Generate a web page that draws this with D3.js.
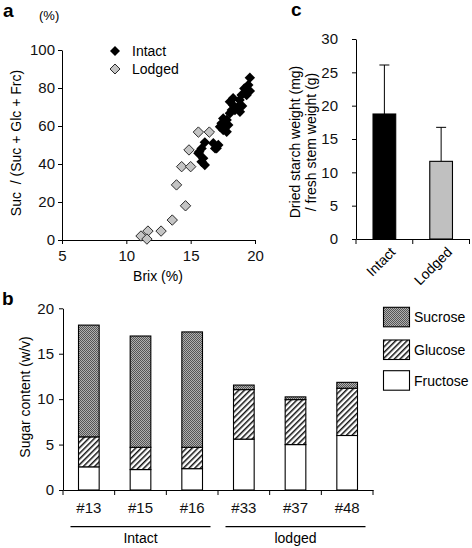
<!DOCTYPE html>
<html><head><meta charset="utf-8">
<script src="https://cdn.jsdelivr.net/npm/d3@7"></script>
<style>
body{margin:0;background:#fff;}
svg{font-family:"Liberation Sans",Arial,Helvetica,sans-serif;}
</style></head>
<body>
<svg id="chart" width="472" height="548"></svg>
<script>
// ---- Panel a data ----
const intactBrix  = [19.6,19.48,19.17,19.6,19.35,18.96,18.8,18.3,18.05,18.3,18.7,18.44,18.2,18.05,18.83,17.53,17.8,17.4,17.66,17.28,17.53,17.92,17.8,16.1,16.76,17.15,16.9,15.85,15.6,15.97,16.1,15.85,15.67,17.02,19.0];
const intactRatio = [85.4,81.6,79.8,78.4,76.3,76.3,73.7,74.6,72.8,71.0,70.2,68.4,68.4,66.7,67.5,64.0,63.2,61.4,60.5,59.6,57.9,60.5,57.0,51.4,50.9,50.0,48.2,48.2,45.6,43.0,39.5,41.2,46.5,48.3,70.5];
const lodgedBrix  = [11.14,11.68,11.6,12.7,13.57,14.6,13.9,14.3,15.0,14.87,15.6,16.45];
const lodgedRatio = [2.1,4.7,0.5,4.7,10.5,18.0,29.0,38.6,38.6,47.4,56.8,56.8];
const aXTicks = [5,10,15,20];
const aYTicks = [0,20,40,60,80,100];

// ---- Panel b data ----
const lines = ["#13","#15","#16","#33","#37","#48"];
const fructose = [2.55,2.25,2.35,5.6,5.0,6.0];
const glucose  = [3.3,2.45,2.35,5.45,4.95,5.2];
const sucrose  = [12.3,12.25,12.7,0.5,0.3,0.65];
const bYTicks = [0,5,10,15,20];
const groups = [{name:"Intact",from:"#13",to:"#16"},{name:"lodged",from:"#33",to:"#48"}];

// ---- Panel c data ----
const cCats = ["Intact","Lodged"];
const cMeans = [18.75,11.65];
const cSD = [7.35,5.1];
const cYTicks = [0,5,10,15,20,25,30];

const svg = d3.select("#chart");
const defs = svg.append("defs");
// sucrose pattern: fine dark pixel texture
const ps = defs.append("pattern").attr("id","pSuc").attr("patternUnits","userSpaceOnUse")
  .attr("width",2).attr("height",2);
ps.append("rect").attr("width",2).attr("height",2).attr("fill","#b0b0b0");
ps.append("rect").attr("x",0).attr("y",0).attr("width",1).attr("height",1).attr("fill","#555");
ps.append("rect").attr("x",1).attr("y",1).attr("width",1).attr("height",1).attr("fill","#555");
// glucose pattern: diagonal hatch
const pg = defs.append("pattern").attr("id","pGlc").attr("patternUnits","userSpaceOnUse")
  .attr("width",4).attr("height",4).attr("patternTransform","rotate(45)");
pg.append("rect").attr("width",4).attr("height",4).attr("fill","#fff");
pg.append("rect").attr("width",1.5).attr("height",4).attr("fill","#111");

function styleAxis(g, fs){
  g.selectAll("path,line").attr("stroke","#000").attr("stroke-width",1);
  g.selectAll("text").attr("font-size",fs).attr("fill","#111").attr("font-family",null);
}

// ================= Panel a =================
const ax = d3.scaleLinear().domain([5,20]).range([62,255]);
const ay = d3.scaleLinear().domain([0,100]).range([240,50]);
const gA = svg.append("g");
gA.append("g").attr("transform","translate(0,240)")
  .call(d3.axisBottom(ax).tickValues(aXTicks).tickSize(4).tickSizeOuter(0).tickPadding(6))
  .call(g=>styleAxis(g,15));
gA.append("g").attr("transform","translate(62,0)")
  .call(d3.axisLeft(ay).tickValues(aYTicks).tickSize(4).tickSizeOuter(0).tickPadding(3))
  .call(g=>styleAxis(g,15));
const diamondPath = (cx,cy,r)=>`M${cx},${cy-r}L${cx+r},${cy}L${cx},${cy+r}L${cx-r},${cy}Z`;
gA.selectAll(".lod").data(lodgedBrix).join("path")
  .attr("d",(d,i)=>diamondPath(ax(d),ay(lodgedRatio[i]),5.2))
  .attr("fill","#c4c4c4").attr("stroke","#2a2a2a").attr("stroke-width",1);
gA.selectAll(".int").data(intactBrix).join("path")
  .attr("d",(d,i)=>diamondPath(ax(d),ay(intactRatio[i]),5.2))
  .attr("fill","#000");
// legend a
gA.append("path").attr("d",diamondPath(115,51,5)).attr("fill","#000");
gA.append("path").attr("d",diamondPath(115,69,5)).attr("fill","#c4c4c4").attr("stroke","#2a2a2a");
gA.append("text").attr("x",132).attr("y",56).attr("font-size",14).text("Intact");
gA.append("text").attr("x",132).attr("y",74).attr("font-size",14).text("Lodged");
gA.append("text").attr("x",39).attr("y",20).attr("font-size",13).text("(%)");
gA.append("text").attr("transform","translate(21,143) rotate(-90)").attr("text-anchor","middle")
  .attr("font-size",14).attr("xml:space","preserve").text("Suc  / (Suc + Glc + Frc)");
gA.append("text").attr("x",158).attr("y",281).attr("text-anchor","middle").attr("font-size",14).text("Brix (%)");
svg.append("text").attr("x",3).attr("y",17).attr("font-size",19).attr("font-weight","bold").text("a");

// ================= Panel b =================
const bx = d3.scaleBand().domain(lines).range([63,373]).paddingInner(0.6).paddingOuter(0.3);
const by = d3.scaleLinear().domain([0,20]).range([490,308.3]);
const gB = svg.append("g");
const stackData = lines.map((l,i)=>({line:l,Fructose:fructose[i],Glucose:glucose[i],Sucrose:sucrose[i]}));
const stack = d3.stack().keys(["Fructose","Glucose","Sucrose"])(stackData);
const fills = {Fructose:"#fff",Glucose:"url(#pGlc)",Sucrose:"url(#pSuc)"};
stack.forEach(layer=>{
  gB.selectAll(null).data(layer).join("rect")
    .attr("x",d=>bx(d.data.line)).attr("width",bx.bandwidth())
    .attr("y",d=>by(d[1])).attr("height",d=>by(d[0])-by(d[1]))
    .attr("fill",fills[layer.key]).attr("stroke","#000").attr("stroke-width",1.1);
});
gB.append("g").attr("transform","translate(63,0)")
  .call(d3.axisLeft(by).tickValues(bYTicks).tickSize(4).tickSizeOuter(0).tickPadding(5))
  .call(g=>styleAxis(g,15));
gB.append("g").attr("transform","translate(0,490)")
  .call(d3.axisBottom(bx).tickSize(0).tickSizeOuter(0).tickPadding(12))
  .call(g=>styleAxis(g,15));
const half = bx.step()*bx.paddingInner()/2;
const bBounds = lines.map(l=>bx(l)-half).concat([bx(lines[lines.length-1])+bx.bandwidth()+half]);
gB.selectAll(".bt").data(bBounds).join("line")
  .attr("x1",d=>d).attr("x2",d=>d).attr("y1",490).attr("y2",495).attr("stroke","#000");
groups.forEach(g=>{
  const x1 = bx(g.from)-8, x2 = bx(g.to)+bx.bandwidth()+8;
  gB.append("line").attr("x1",x1).attr("x2",x2).attr("y1",526.7).attr("y2",526.7).attr("stroke","#000").attr("stroke-width",1.2);
  gB.append("text").attr("x",(x1+x2)/2).attr("y",543).attr("text-anchor","middle").attr("font-size",14).text(g.name);
});
gB.append("text").attr("transform","translate(30,397) rotate(-90)").attr("text-anchor","middle")
  .attr("font-size",14).text("Sugar content (w/v)");
// legend b
const legB = [{k:"Sucrose",y:307.3},{k:"Glucose",y:340},{k:"Fructose",y:370.7}];
legB.forEach(d=>{
  gB.append("rect").attr("x",383.5).attr("y",d.y).attr("width",26).attr("height",19.5)
    .attr("fill",fills[d.k]).attr("stroke","#000").attr("stroke-width",1.1);
  gB.append("text").attr("x",414).attr("y",d.y+15).attr("font-size",14).text(d.k);
});
svg.append("text").attr("x",2).attr("y",305).attr("font-size",19).attr("font-weight","bold").text("b");

// ================= Panel c =================
const cx = d3.scaleBand().domain(cCats).range([356,469.5]).paddingInner(0.6).paddingOuter(0.3);
const cy = d3.scaleLinear().domain([0,30]).range([239,39]);
const gC = svg.append("g");
const cFill = ["#000","#c0c0c0"];
gC.selectAll(".eb").data(cCats).join("g").each(function(c,i){
  const g = d3.select(this), xm = cx(c)+cx.bandwidth()/2;
  g.append("line").attr("x1",xm).attr("x2",xm).attr("y1",cy(cMeans[i])).attr("y2",cy(cMeans[i]+cSD[i])).attr("stroke","#000");
  g.append("line").attr("x1",xm-5).attr("x2",xm+5).attr("y1",cy(cMeans[i]+cSD[i])).attr("y2",cy(cMeans[i]+cSD[i])).attr("stroke","#000");
});
gC.selectAll(".cb").data(cCats).join("rect")
  .attr("x",d=>cx(d)).attr("width",cx.bandwidth())
  .attr("y",(d,i)=>cy(cMeans[i])).attr("height",(d,i)=>cy(0)-cy(cMeans[i]))
  .attr("fill",(d,i)=>cFill[i]).attr("stroke","#000").attr("stroke-width",1.1);
gC.append("g").attr("transform","translate(356,0)")
  .call(d3.axisLeft(cy).tickValues(cYTicks).tickSize(4).tickSizeOuter(0).tickPadding(14))
  .call(g=>styleAxis(g,15));
gC.append("g").attr("transform","translate(0,239)")
  .call(d3.axisBottom(cx).tickSize(0).tickSizeOuter(0).tickFormat(""))
  .call(g=>styleAxis(g,14));
const chalf = cx.step()*cx.paddingInner()/2;
const cBounds = cCats.map(c=>cx(c)-chalf).concat([cx(cCats[1])+cx.bandwidth()+chalf]);
gC.selectAll(".ct").data(cBounds).join("line")
  .attr("x1",d=>d).attr("x2",d=>d).attr("y1",239).attr("y2",244).attr("stroke","#000");
gC.selectAll(".cl").data(cCats).join("text")
  .attr("transform",d=>`translate(${cx(d)+cx.bandwidth()/2+12},253) rotate(-45)`)
  .attr("text-anchor","end").attr("font-size",14).text(d=>d);
gC.append("text").attr("transform","translate(300,142) rotate(-90)").attr("text-anchor","middle")
  .attr("font-size",14).text("Dried starch weight (mg)");
gC.append("text").attr("transform","translate(316,142) rotate(-90)").attr("text-anchor","middle")
  .attr("font-size",14).text("/ fresh stem weight (g)");
svg.append("text").attr("x",291).attr("y",16).attr("font-size",19).attr("font-weight","bold").text("c");
</script>
</body></html>
